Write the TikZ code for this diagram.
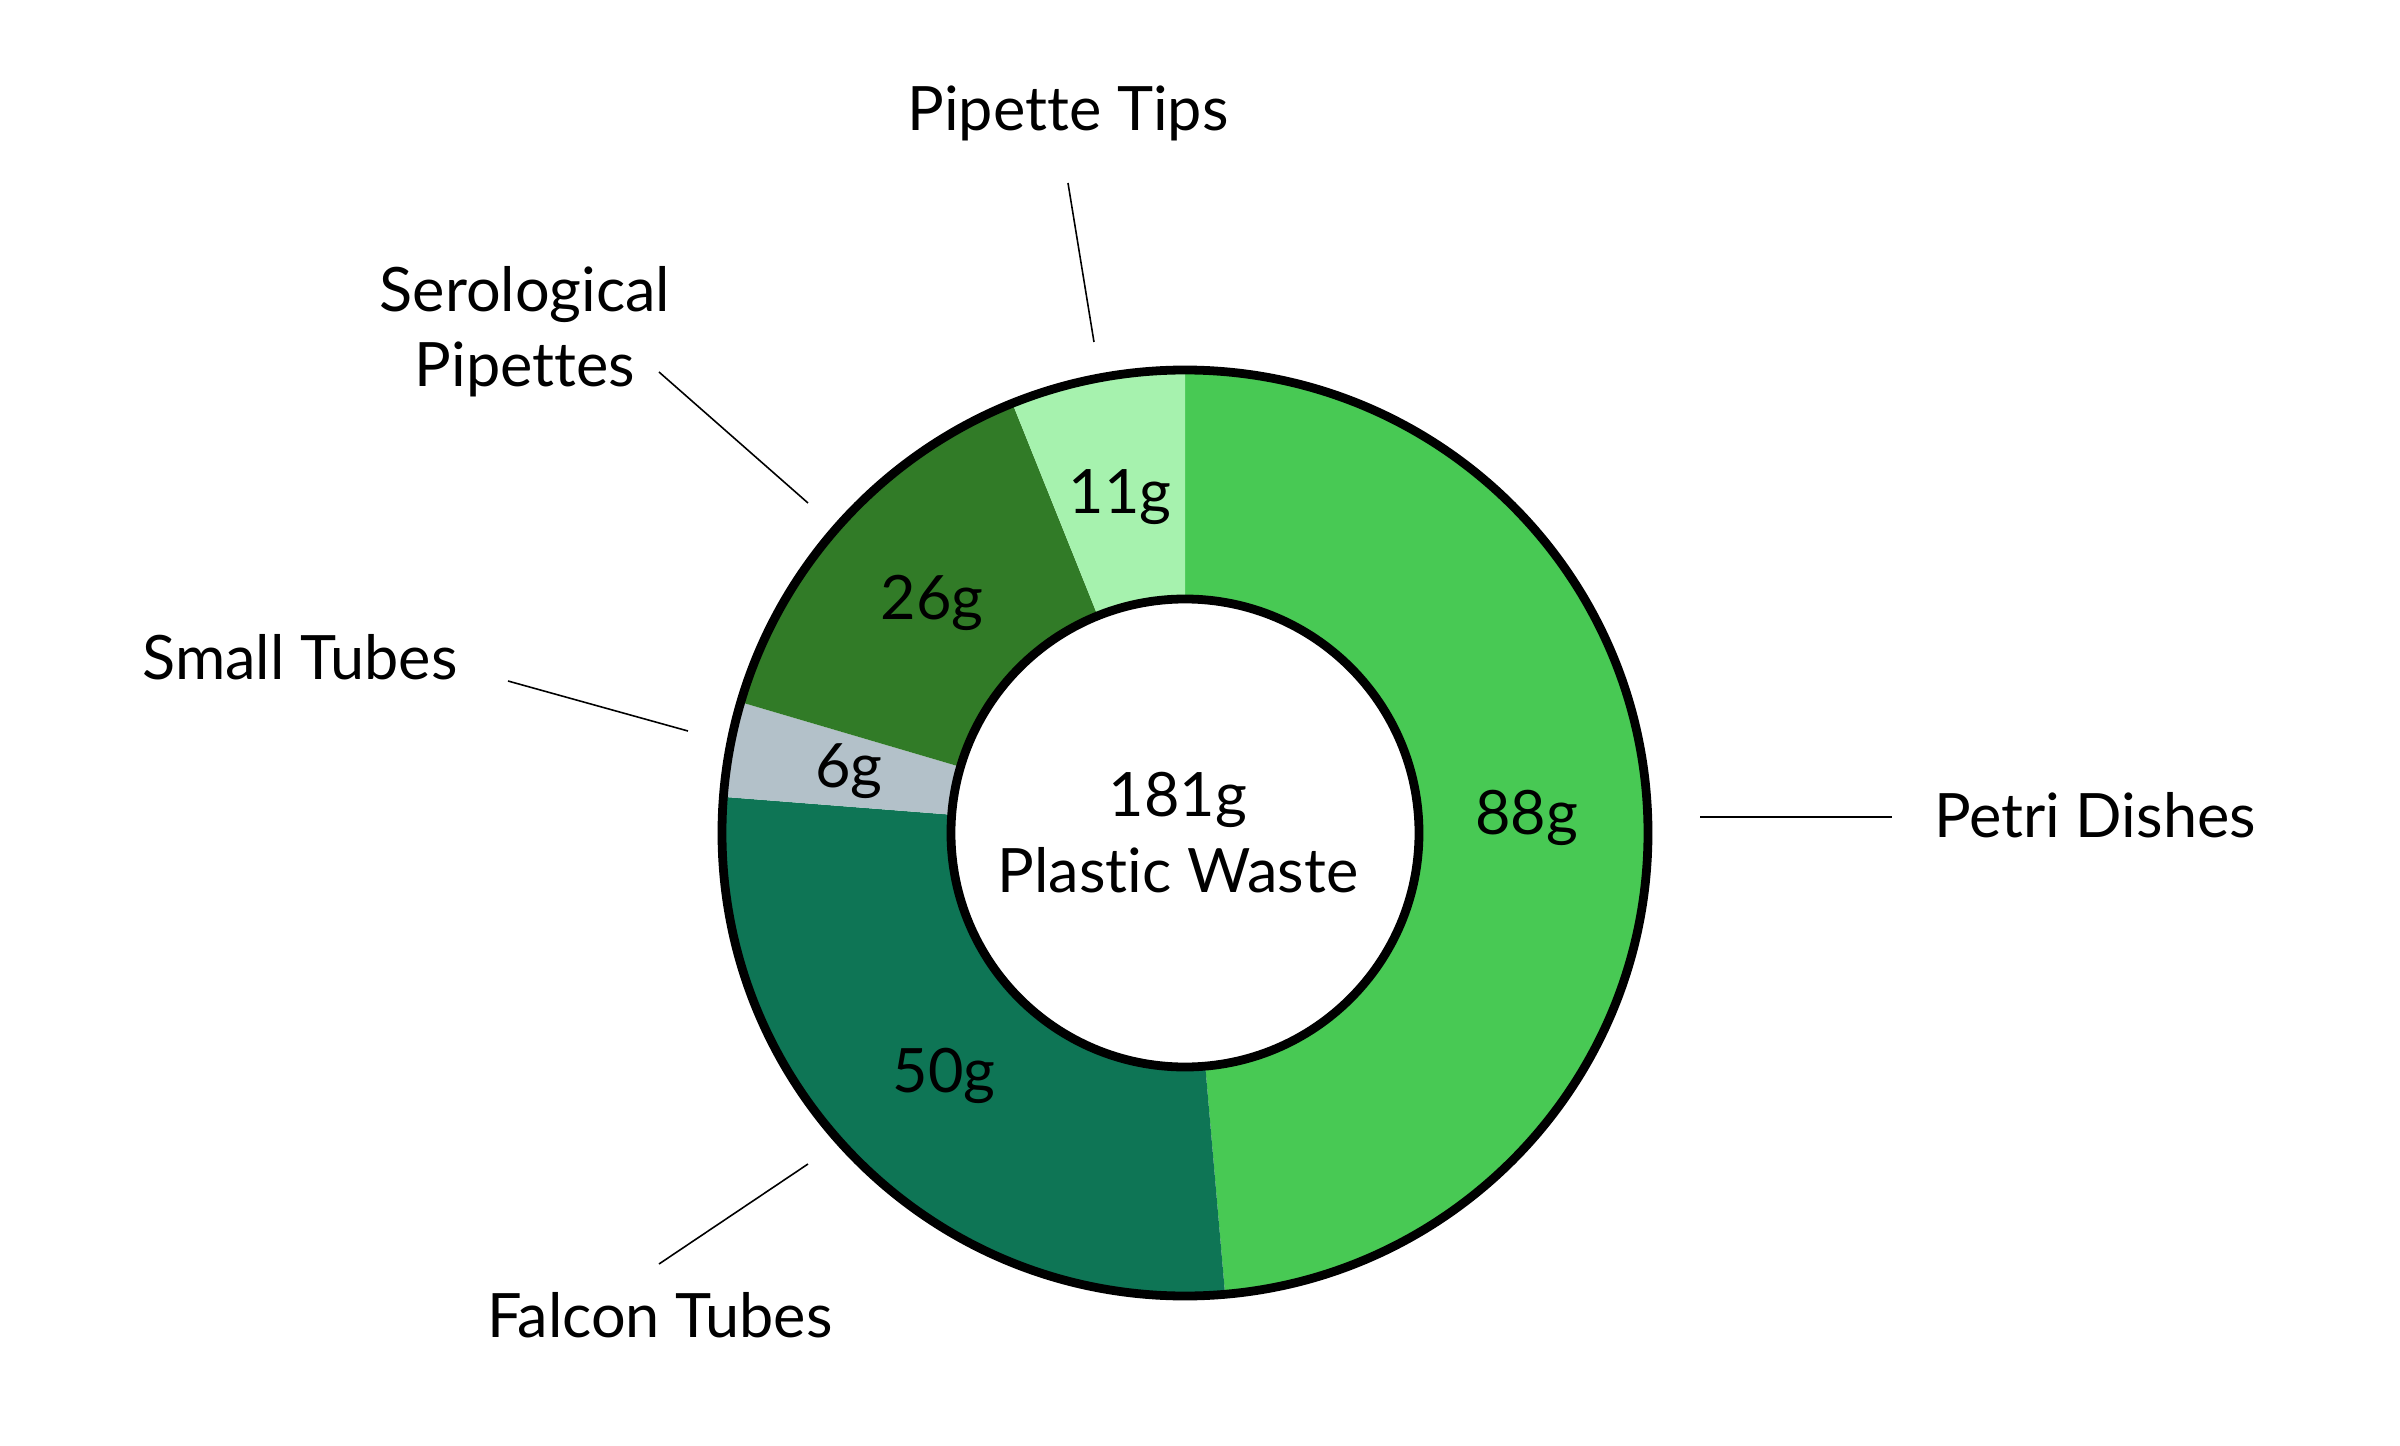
\documentclass[tikz,border=0pt]{standalone}
\usepackage{fontspec}
\setmainfont{Lato}[Ligatures=NoCommon]
\usepackage{tikz}
\definecolor{petrigreen}{HTML}{48C954}
\definecolor{falcongreen}{HTML}{0E7555}
\definecolor{smallgrey}{HTML}{B3C1C9}
\definecolor{serogreen}{HTML}{317B27}
\definecolor{tipsgreen}{HTML}{A6F2AE}
\tikzset{
  every node/.style={inner sep=0pt},
  valtext/.style={font=\fontsize{17.4pt}{21.6pt}\selectfont},
  cattext/.style={font=\fontsize{17.4pt}{21.6pt}\selectfont, anchor=base},
  ringline/.style={draw=black, line width=2.5pt},
  leader/.style={draw=black, line width=0.45pt},
}

\begin{document}
\begin{tikzpicture}[x=0.01cm,y=0.01cm]
\useasboundingbox (-1185,-612) rectangle (1215,833);
\coordinate (ctr) at (0,0);
\foreach \s/\e/\nm/\col/\val in {90/-85.03/petri/petrigreen/88g,
  -85.03/-184.48/falcon/falcongreen/50g, -184.48/-196.41/small/smallgrey/6g,
  -196.41/-248.12/sero/serogreen/26g, -248.12/-270/tips/tipsgreen/11g}
{
  \fill[fill=\col] (\s:463) arc[start angle=\s, end angle=\e, radius=463]
    -- (\e:234) arc[start angle=\e, end angle=\s, radius=234] -- cycle;
  \node[valtext] (\nm-val) at ({(\s+\e)/2}:342) {\val};
}
\draw[ringline] (ctr) circle[radius=463];
\draw[ringline] (ctr) circle[radius=234];
\node[cattext] (total) at (-7,17) {181g};
\node[cattext] (waste) at (-7,-59) {Plastic Waste};
\node[cattext] (petri-lbl) at (910,-4) {Petri Dishes};
\node[cattext] (falcon-lbl) at (-525,-504) {Falcon Tubes};
\node[cattext] (small-lbl) at (-885,153) {Small Tubes};
\node[cattext, align=center] (sero-lbl) at (-660,446) {Serological\\Pipettes};
\node[cattext] (tips-lbl) at (-117,702) {Pipette Tips};
\foreach \nm/\a/\b in {petri/{515,16}/{707,16}, falcon/{-377,-331}/{-526,-431},
  small/{-497,102}/{-677,152}, sero/{-377,330}/{-526,461}, tips/{-91,491}/{-117,650}}
{
  \coordinate (\nm-in) at (\a);
  \coordinate (\nm-out) at (\b);
  \draw[leader] (\nm-in) -- (\nm-out);
}
\end{tikzpicture}
\end{document}
